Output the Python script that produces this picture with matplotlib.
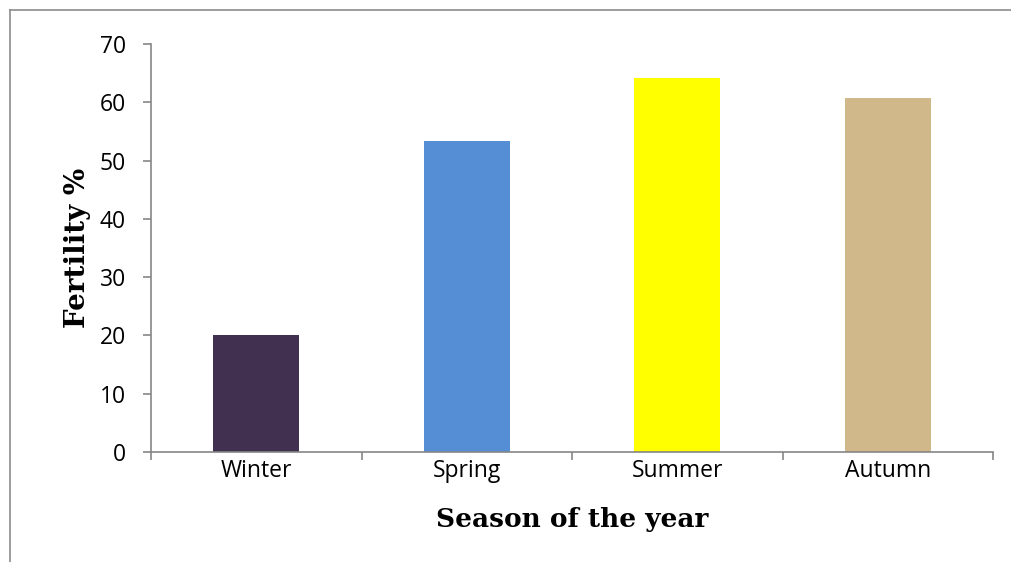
import matplotlib.pyplot as plt
from matplotlib.lines import Line2D

seasons = ["Winter", "Spring", "Summer", "Autumn"]
fertility = [20.0, 53.3, 64.1, 60.7]
colors = ["#413050", "#558ED5", "#FFFF00", "#D1B88A"]
yticks = [0, 10, 20, 30, 40, 50, 60, 70]

fig = plt.figure(figsize=(10.11, 5.62), dpi=100)
ax = fig.add_axes([151 / 1011, 1 - 452 / 562, (993 - 151) / 1011, (452 - 44) / 562])

x = range(len(seasons))
ax.bar(x, fertility, width=0.41, color=colors)

ax.set_xlim(-0.5, len(seasons) - 0.5)
ax.set_ylim(0, 70)
ax.set_yticks(yticks)

# category labels at centres, tick marks at category boundaries
ax.set_xticks(list(x))
ax.set_xticklabels(seasons, fontsize=16.5, family="Open Sans")
ax.set_xticks([i - 0.5 for i in range(len(seasons) + 1)], minor=True)
ax.tick_params(axis="x", which="major", length=0, pad=5)
ax.tick_params(axis="x", which="minor", length=6, width=1.2, color="#868686", direction="out")
ax.tick_params(axis="y", length=6, width=1.2, color="#868686", direction="out", pad=12)
for lbl in ax.get_yticklabels():
    lbl.set_fontsize(16.5)
    lbl.set_family("Open Sans")

ax.spines[["right", "top"]].set_visible(False)
for s in ["left", "bottom"]:
    ax.spines[s].set_color("#868686")
    ax.spines[s].set_linewidth(1.2)

ax.set_xlabel("Season of the year", fontsize=19, fontweight="bold", family="DejaVu Serif", labelpad=17)
ax.set_ylabel("Fertility %", fontsize=20, fontweight="bold", family="DejaVu Serif", labelpad=6)

# outer chart frame (top and left edges visible)
fig.add_artist(Line2D([10 / 1011, 1], [1 - 10 / 562] * 2, color="#8c8c8c", lw=1.2))
fig.add_artist(Line2D([10 / 1011] * 2, [0, 1 - 10 / 562], color="#8c8c8c", lw=1.2))

fig.savefig("out.png", dpi=100)
